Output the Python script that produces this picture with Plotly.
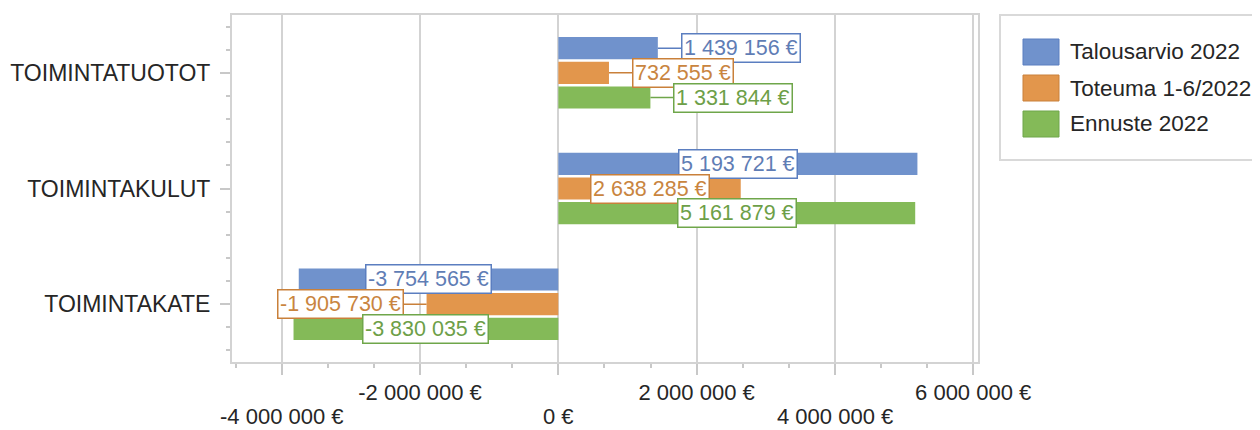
import plotly.graph_objects as go

categories = ["TOIMINTATUOTOT", "TOIMINTAKULUT", "TOIMINTAKATE"]
series_names = ["Talousarvio 2022", "Toteuma 1-6/2022", "Ennuste 2022"]
talousarvio = [1439156, 5193721, -3754565]
toteuma = [732555, 2638285, -1905730]
ennuste = [1331844, 5161879, -3830035]
x_tickvals = [-4000000, -2000000, 0, 2000000, 4000000, 6000000]
x_ticklabels = ["-4 000 000 €", "-2 000 000 €", "0 €", "2 000 000 €", "4 000 000 €", "6 000 000 €"]

series_values = [talousarvio, toteuma, ennuste]
bar_colors = ["#7092CC", "#E2964C", "#84BA58"]
line_colors = ["#5B7EC0", "#C9803A", "#6FA64A"]
text_colors = ["#5F7DB5", "#C9853F", "#6D9F48"]

# page body has an 8px margin; figure is sized to fill the rest of the window
OFF = 8
W, H = 1260 - OFF, 430 - OFF
ML, MR, MT, MB = 232 - OFF, 282, 15 - OFF, 68
PW, PH = W - ML - MR, H - MT - MB
FONT = "Liberation Sans, Arial, sans-serif"
LABEL_FS = 21.5
TICK_FS = 22
BARGAP, GROUPGAP = 0.36, 0.1


def fmt(v):
    s = f"{abs(v):,}".replace(",", " ")
    return ("-" if v < 0 else "") + s + " €"


def text_width(s, fs):
    w = 0.0
    for ch in s:
        if ch == " ":
            w += 0.278
        elif ch == "-":
            w += 0.333
        else:
            w += 0.556
    return w * fs


fig = go.Figure()
ypos = list(range(len(categories)))
for name, vals, col in zip(series_names, series_values, bar_colors):
    fig.add_trace(go.Bar(
        y=ypos, x=vals, orientation="h", name=name,
        marker=dict(color=col, line=dict(width=0)),
        showlegend=False, hoverinfo="x+name",
    ))

slot = (1 - BARGAP) / len(series_values)
annotations = []
for i, (vals, lc, tc) in enumerate(zip(series_values, line_colors, text_colors)):
    for j, v in enumerate(vals):
        yc = j + (i - (len(series_values) - 1) / 2) * slot
        txt = fmt(v)
        common = dict(
            text=txt, yref="y", xref="x", y=yc,
            font=dict(family=FONT, size=LABEL_FS, color=tc),
            bgcolor="white", bordercolor=lc, borderwidth=1.5, borderpad=1.5,
        )
        if abs(v) >= 2000000:
            annotations.append(dict(x=v / 2, showarrow=False, **common))
        else:
            off = text_width(txt, LABEL_FS) / 2 + 26
            sign = 1 if v >= 0 else -1
            annotations.append(dict(
                x=v, showarrow=True, arrowhead=0, arrowwidth=1.5, arrowcolor=lc,
                ax=sign * off, ay=0, standoff=0, startstandoff=0, **common))

# staggered x tick labels: odd ones as tick labels, even ones in a lower row
ticktext = [t if k % 2 == 1 else "" for k, t in enumerate(x_ticklabels)]
for k, (tv, t) in enumerate(zip(x_tickvals, x_ticklabels)):
    if k % 2 == 0:
        annotations.append(dict(x=tv, xref="x", y=0, yref="paper", yanchor="middle",
                                yshift=-54, showarrow=False, text=t,
                                font=dict(family=FONT, size=TICK_FS, color="#262626")))


def px_x(p):
    return (p - OFF - ML) / PW


def px_y(p):
    return (H - MB - (p - OFF)) / PH


shapes = [dict(type="rect", xref="paper", yref="paper",
               x0=px_x(1000), x1=px_x(1275), y0=px_y(160), y1=px_y(15),
               line=dict(color="#D9D9D9", width=2), fillcolor="white", layer="below")]
for k, (name, col, lc) in enumerate(zip(series_names, bar_colors, line_colors)):
    cy = 52 + k * 36
    shapes.append(dict(type="rect", xref="paper", yref="paper",
                       x0=px_x(1023), x1=px_x(1059), y0=px_y(cy + 13), y1=px_y(cy - 13),
                       fillcolor=col, line=dict(color=lc, width=1)))
    annotations.append(dict(xref="paper", yref="paper", x=px_x(1068), y=px_y(cy),
                            xanchor="left", yanchor="middle", showarrow=False, text=name,
                            font=dict(family=FONT, size=22.5, color="#262626")))

fig.update_layout(
    width=W, height=H,
    margin=dict(l=ML, r=MR, t=MT, b=MB, autoexpand=False),
    paper_bgcolor="white", plot_bgcolor="white",
    barmode="group", bargap=BARGAP, bargroupgap=GROUPGAP,
    font=dict(family=FONT, size=22, color="#262626"),
    annotations=annotations, shapes=shapes,
    showlegend=False,
)
fig.update_xaxes(
    range=[-4720000, 6070000],
    tickvals=x_tickvals, ticktext=ticktext,
    showgrid=True, gridcolor="#D3D3D3", gridwidth=1.5,
    zeroline=False,
    showline=True, linecolor="#D3D3D3", linewidth=2, mirror=True,
    ticks="outside", ticklen=11, tickwidth=1.5, tickcolor="#C8C8C8",
    minor=dict(dtick=2000000 / 3, tick0=0, ticks="outside", ticklen=4,
               tickwidth=1.5, tickcolor="#C8C8C8", showgrid=False),
    tickfont=dict(family=FONT, size=TICK_FS, color="#262626"),
    ticklabelstandoff=-1,
)
fig.update_yaxes(
    range=[2.5, -0.5],
    tickvals=ypos, ticktext=categories,
    showgrid=False, zeroline=False,
    showline=True, linecolor="#D3D3D3", linewidth=2, mirror=True,
    ticks="outside", ticklen=10, tickwidth=1.5, tickcolor="#C8C8C8",
    minor=dict(dtick=0.2, tick0=0, ticks="outside", ticklen=4,
               tickwidth=1.5, tickcolor="#C8C8C8", showgrid=False),
    tickfont=dict(family=FONT, size=23, color="#262626"),
    ticklabelstandoff=5,
)

fig.write_html("out.html")
